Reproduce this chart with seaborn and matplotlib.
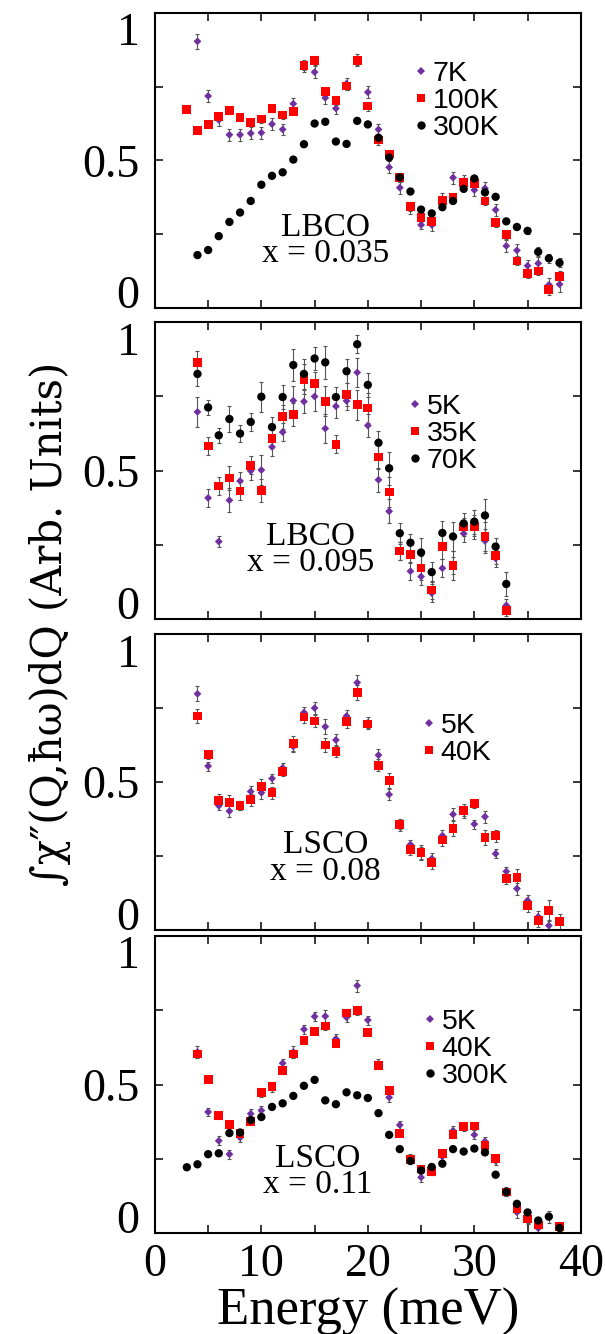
import numpy as np
import pandas as pd
import matplotlib
matplotlib.use("Agg")
import matplotlib.pyplot as plt
import seaborn as sns

nan = np.nan

# ---- panel 1 : LBCO x = 0.035 ----
e_lbco035 = [3, 4, 5, 6, 7, 8, 9, 10, 11, 12, 13, 14, 15, 16, 17, 18, 19, 20,
             21, 22, 23, 24, 25, 26, 27, 28, 29, 30, 31, 32, 33, 34, 35, 36, 37, 38]
lbco035_7K = [nan, 0.903, 0.718, 0.637, 0.587, 0.587, 0.592, 0.594, 0.623, 0.605, 0.692, 0.820,
              0.799, 0.712, 0.676, 0.760, 0.840, 0.731, 0.605, 0.477, 0.408, 0.340, 0.282, 0.282,
              0.370, 0.442, 0.430, 0.400, 0.406, 0.333, 0.211, 0.196, 0.144, 0.152, 0.079, 0.081]
lbco035_7K_err = [0, 0.025, 0.02, 0.02, 0.02, 0.02, 0.02, 0.02, 0.02, 0.02, 0.02, 0.02,
                  0.02, 0.02, 0.02, 0.02, 0.02, 0.02, 0.02, 0.02, 0.02, 0.02, 0.015, 0.02,
                  0.02, 0.02, 0.02, 0.02, 0.02, 0.02, 0.02, 0.02, 0.02, 0.02, 0.025, 0.025]
lbco035_100K = [0.673, 0.602, 0.623, 0.650, 0.670, 0.646, 0.629, 0.640, 0.675, 0.654, 0.667, 0.820,
                0.838, 0.734, 0.702, 0.752, 0.838, 0.684, 0.569, 0.522, 0.443, 0.343, 0.308, 0.293,
                0.365, 0.374, 0.425, 0.423, 0.363, 0.290, 0.250, 0.160, 0.118, 0.126, 0.064, 0.107]
lbco035_100K_err = [0.01, 0.01, 0.01, 0.01, 0.012, 0.012, 0.012, 0.012, 0.012, 0.012, 0.012, 0.015,
                    0.015, 0.015, 0.015, 0.015, 0.015, 0.015, 0.015, 0.015, 0.015, 0.015, 0.015, 0.015,
                    0.015, 0.015, 0.015, 0.015, 0.015, 0.015, 0.015, 0.015, 0.015, 0.015, 0.02, 0.02]
lbco035_300K = [nan, 0.180, 0.197, 0.244, 0.292, 0.324, 0.363, 0.418, 0.448, 0.460, 0.503, 0.555,
                0.625, 0.631, 0.564, 0.556, 0.634, 0.622, 0.577, 0.510, 0.443, 0.395, 0.334, 0.321,
                0.342, 0.363, 0.404, 0.439, 0.392, 0.377, 0.294, 0.275, 0.262, 0.191, 0.169, 0.154]
lbco035_300K_err = [0, 0, 0, 0, 0, 0, 0, 0, 0, 0, 0, 0,
                    0, 0, 0, 0, 0, 0, 0, 0, 0, 0, 0, 0,
                    0, 0, 0, 0, 0, 0, 0, 0, 0.01, 0.015, 0.015, 0.015]

# ---- panel 2 : LBCO x = 0.095 ----
e_lbco095 = [4, 5, 6, 7, 8, 9, 10, 11, 12, 13, 14, 15, 16, 17, 18, 19, 20,
             21, 22, 23, 24, 25, 26, 27, 28, 29, 30, 31, 32, 33]
lbco095_5K = [0.698, 0.408, 0.261, 0.400, 0.465, 0.499, 0.502, 0.580, 0.630, 0.736, 0.733, 0.750,
              0.642, 0.717, 0.735, 0.831, 0.652, 0.469, 0.363, 0.230, 0.161, 0.143, 0.087, 0.171,
              0.180, 0.288, 0.310, 0.263, 0.204, 0.046]
lbco095_5K_err = [0.05, 0.03, 0.02, 0.04, 0.03, 0.03, 0.05, 0.03, 0.03, 0.05, 0.04, 0.05,
                  0.05, 0.04, 0.03, 0.05, 0.04, 0.04, 0.04, 0.03, 0.03, 0.03, 0.03, 0.03,
                  0.03, 0.03, 0.03, 0.04, 0.03, 0.02]
lbco095_35K = [0.864, 0.583, 0.448, 0.475, 0.431, 0.518, 0.433, 0.607, 0.682, 0.689, 0.808, 0.793,
               0.734, 0.589, 0.757, 0.722, 0.711, 0.546, 0.428, 0.229, 0.218, 0.172, 0.098, 0.243,
               0.180, 0.310, 0.311, 0.278, 0.215, 0.029]
lbco095_35K_err = [0.04, 0.03, 0.03, 0.04, 0.03, 0.03, 0.04, 0.03, 0.04, 0.04, 0.05, 0.04,
                   0.05, 0.03, 0.04, 0.05, 0.05, 0.04, 0.05, 0.03, 0.03, 0.04, 0.03, 0.04,
                   0.05, 0.03, 0.04, 0.05, 0.03, 0.02]
lbco095_70K = [0.826, 0.713, 0.619, 0.674, 0.625, 0.664, 0.749, 0.647, 0.748, 0.856, 0.826, 0.878,
               0.865, 0.748, 0.835, 0.926, 0.789, 0.594, 0.508, 0.289, 0.257, 0.224, 0.158, 0.290,
               0.278, 0.322, 0.328, 0.349, 0.244, 0.118]
lbco095_70K_err = [0.04, 0.025, 0.025, 0.045, 0.03, 0.03, 0.05, 0.035, 0.04, 0.055, 0.05, 0.04,
                   0.055, 0.035, 0.04, 0.03, 0.04, 0.04, 0.055, 0.035, 0.03, 0.05, 0.035, 0.04,
                   0.05, 0.035, 0.04, 0.055, 0.03, 0.04]

# ---- panel 3 : LSCO x = 0.08 ----
e_lsco08 = [4, 5, 6, 7, 8, 9, 10, 11, 12, 13, 14, 15, 16, 17, 18, 19, 20,
            21, 22, 23, 24, 25, 26, 27, 28, 29, 30, 31, 32, 33, 34, 35, 36, 37, 38]
lsco08_5K = [0.798, 0.554, 0.420, 0.402, 0.420, 0.468, 0.464, 0.512, 0.548, 0.620, 0.735, 0.750,
             0.687, 0.642, 0.723, 0.836, 0.700, 0.591, 0.458, 0.356, 0.289, 0.260, 0.241, 0.319,
             0.391, 0.400, 0.358, 0.383, 0.258, 0.198, 0.140, 0.100, 0.045, 0.015, nan]
lsco08_5K_err = [0.025, 0.015, 0.015, 0.02, 0.015, 0.02, 0.02, 0.015, 0.015, 0.02, 0.02, 0.02,
                 0.025, 0.02, 0.02, 0.025, 0.02, 0.02, 0.02, 0.02, 0.015, 0.02, 0.02, 0.02,
                 0.02, 0.02, 0.015, 0.02, 0.015, 0.015, 0.02, 0.02, 0.02, 0.02, 0]
lsco08_40K = [0.723, 0.593, 0.438, 0.432, 0.420, 0.440, 0.485, 0.464, 0.535, 0.630, 0.720, 0.706,
              0.625, 0.604, 0.704, 0.803, 0.696, 0.557, 0.505, 0.356, 0.273, 0.261, 0.227, 0.304,
              0.342, 0.405, 0.428, 0.312, 0.319, 0.175, 0.177, 0.082, 0.032, 0.065, 0.030]
lsco08_40K_err = [0.025, 0.015, 0.02, 0.025, 0.015, 0.02, 0.025, 0.02, 0.015, 0.025, 0.02, 0.02,
                  0.025, 0.02, 0.02, 0.025, 0.015, 0.02, 0.025, 0.015, 0.02, 0.025, 0.02, 0.02,
                  0.025, 0.02, 0.015, 0.025, 0.02, 0.02, 0.03, 0.02, 0.02, 0.035, 0.025]

# ---- panel 4 : LSCO x = 0.11 ----
e_lsco11 = [3, 4, 5, 6, 7, 8, 9, 10, 11, 12, 13, 14, 15, 16, 17, 18, 19, 20,
            21, 22, 23, 24, 25, 26, 27, 28, 29, 30, 31, 32, 33, 34, 35, 36, 37, 38]
lsco11_5K = [nan, 0.610, 0.408, 0.311, 0.266, 0.322, 0.402, 0.413, 0.490, 0.572, 0.610, 0.686,
             0.729, 0.730, 0.654, 0.726, 0.833, 0.717, 0.570, 0.457, 0.364, 0.250, 0.188, 0.210,
             0.258, 0.345, 0.360, 0.331, 0.309, 0.243, 0.142, 0.071, 0.050, 0.017, nan, nan]
lsco11_5K_err = [0, 0.02, 0.015, 0.015, 0.015, 0.015, 0.015, 0.015, 0.015, 0.015, 0.02, 0.015,
                 0.015, 0.02, 0.015, 0.015, 0.02, 0.015, 0.015, 0.015, 0.015, 0.015, 0.015, 0.015,
                 0.015, 0.015, 0.015, 0.015, 0.015, 0.015, 0.015, 0.02, 0.02, 0.02, 0, 0]
lsco11_40K = [nan, 0.603, 0.517, 0.396, 0.367, 0.335, 0.377, 0.474, 0.494, 0.547, 0.603, 0.648,
              0.678, 0.697, 0.638, 0.741, 0.748, 0.674, 0.564, 0.480, 0.336, 0.247, 0.216, 0.207,
              0.269, 0.331, 0.359, 0.361, 0.295, 0.252, 0.139, 0.084, 0.048, 0.028, nan, 0.022]
lsco11_40K_err = [0, 0.015, 0.01, 0.01, 0.012, 0.01, 0.012, 0.015, 0.012, 0.012, 0.015, 0.012,
                  0.012, 0.015, 0.012, 0.012, 0.015, 0.012, 0.012, 0.012, 0.012, 0.012, 0.012, 0.012,
                  0.012, 0.012, 0.012, 0.012, 0.012, 0.012, 0.012, 0.015, 0.015, 0.015, 0, 0.015]
lsco11_300K = [0.222, 0.232, 0.266, 0.269, 0.337, 0.339, 0.381, 0.391, 0.425, 0.437, 0.462, 0.496,
               0.516, 0.447, 0.434, 0.474, 0.464, 0.455, 0.404, 0.331, 0.283, 0.243, 0.211, 0.223,
               0.234, 0.283, 0.275, 0.285, 0.272, 0.197, 0.139, 0.099, 0.070, 0.043, 0.056, 0.018]
lsco11_300K_err = [0, 0, 0, 0, 0, 0, 0, 0, 0, 0, 0, 0,
                   0, 0, 0, 0, 0, 0, 0, 0, 0, 0, 0, 0,
                   0, 0, 0, 0, 0, 0, 0, 0, 0.01, 0.01, 0.02, 0.01]

panels = [
    dict(energy=e_lbco035, sample="LBCO", doping="x = 0.035",
         series=[("7K", lbco035_7K, lbco035_7K_err),
                 ("100K", lbco035_100K, lbco035_100K_err),
                 ("300K", lbco035_300K, lbco035_300K_err)]),
    dict(energy=e_lbco095, sample="LBCO", doping="x = 0.095",
         series=[("5K", lbco095_5K, lbco095_5K_err),
                 ("35K", lbco095_35K, lbco095_35K_err),
                 ("70K", lbco095_70K, lbco095_70K_err)]),
    dict(energy=e_lsco08, sample="LSCO", doping="x = 0.08",
         series=[("5K", lsco08_5K, lsco08_5K_err),
                 ("40K", lsco08_40K, lsco08_40K_err)]),
    dict(energy=e_lsco11, sample="LSCO", doping="x = 0.11",
         series=[("5K", lsco11_5K, lsco11_5K_err),
                 ("40K", lsco11_40K, lsco11_40K_err),
                 ("300K", lsco11_300K, lsco11_300K_err)]),
]

# layout (figure fractions) and label placement
rects = [(0.256, 0.7689, 0.704, 0.2216),
         (0.256, 0.5360, 0.704, 0.2224),
         (0.256, 0.3028, 0.704, 0.2219),
         (0.256, 0.0755, 0.704, 0.2229)]
label_xy = [(16.0, 0.229), (14.6, 0.233), (16.0, 0.243), (15.3, 0.207)]
legend_xy = [(0.609, 0.838), (0.595, 0.758), (0.628, 0.733), (0.630, 0.754)]

colors = ["#7030A0", "#FF0000", "#000000"]
marks = ["D", "s", "o"]
msizes = [16, 40, 36]

sns.set_theme(style="ticks")
plt.rcParams["font.family"] = ["Liberation Serif", "DejaVu Serif"]
plt.rcParams.update({"text.color": "black", "axes.labelcolor": "black",
                     "xtick.color": "black", "ytick.color": "black"})

fig = plt.figure(figsize=(6.05, 13.34), dpi=100)

for i, p in enumerate(panels):
    ax = fig.add_axes(rects[i])
    labels = [s[0] for s in p["series"]]
    rows = []
    for lab, vals, errs in p["series"]:
        for e, v in zip(p["energy"], vals):
            rows.append({"E": e, "val": v, "T": lab})
        ax.errorbar(p["energy"], vals, yerr=errs, fmt="none", ecolor="#555555",
                    elinewidth=0.8, capsize=1.6, capthick=0.8, zorder=1)
    df = pd.DataFrame(rows).dropna()
    n = len(labels)
    sns.scatterplot(data=df, x="E", y="val", hue="T", style="T", size="T",
                    hue_order=labels, style_order=labels, size_order=labels,
                    palette=dict(zip(labels, colors[:n])),
                    markers=dict(zip(labels, marks[:n])),
                    sizes=dict(zip(labels, msizes[:n])),
                    linewidth=0, ax=ax, zorder=3)
    sns.move_legend(ax, "upper left", bbox_to_anchor=legend_xy[i], frameon=False, title="",
                    handlelength=0.5, handletextpad=0.15, labelspacing=0.04,
                    borderpad=0, borderaxespad=0,
                    prop={"family": "Liberation Sans", "size": 20.5})

    lx, ly = label_xy[i]
    ax.text(lx, ly, p["sample"] + "\n" + p["doping"], ha="center", va="center",
            fontsize=24, linespacing=0.82, family="Liberation Serif")

    ax.set_xlim(0, 40)
    ax.set_ylim(0, 1)
    ax.set_xlabel("")
    ax.set_ylabel("")
    ax.set_xticks([0, 5, 10, 15, 20, 25, 30, 35, 40])
    ax.set_xticklabels(["0", "", "10", "", "20", "", "30", "", "40"])
    ax.set_yticks([0, 0.25, 0.5, 0.75, 1])
    ax.set_yticklabels(["0", "", "0.5", "", "1"])
    ax.tick_params(direction="in", length=5.5, width=1.1, top=True, right=True,
                   labelsize=33, colors="black")
    ax.tick_params(axis="y", pad=11)
    ax.tick_params(axis="x", pad=7)
    ylabs = ax.get_yticklabels()
    ylabs[0].set_va("baseline")
    ylabs[-1].set_va("top")
    for sp in ax.spines.values():
        sp.set_visible(True)
        sp.set_linewidth(1.5)
        sp.set_color("black")
    if i < 3:
        ax.tick_params(axis="x", labelbottom=False)
    else:
        ax.set_xlabel("Energy (meV)", fontsize=38, labelpad=2, color="black")

fig.text(0.082, 0.532, "∫χ″(Q,ħω)dQ (Arb. Units)", rotation=90, ha="center", va="center",
         fontsize=30, family="DejaVu Serif", color="black")

fig.savefig("out.png", dpi=100)
